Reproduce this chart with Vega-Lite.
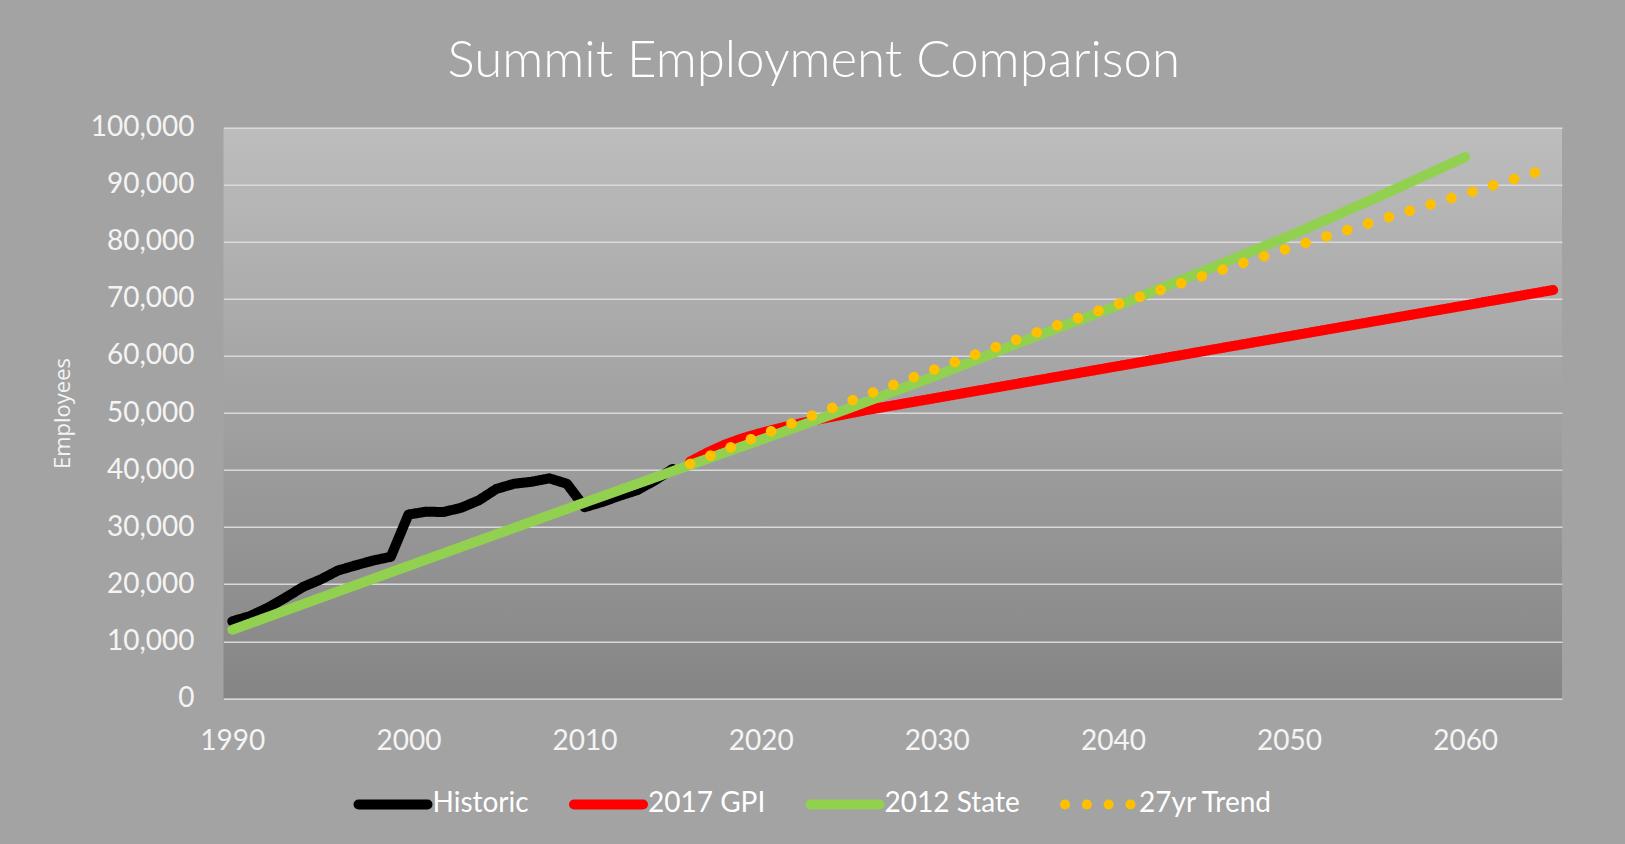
{
  "$schema": "https://vega.github.io/schema/vega-lite/v6.json",
  "width": 1338.5,
  "height": 570.6,
  "autosize": {"type": "none"},
  "padding": {"left": 223.5, "top": 127.7, "right": 63, "bottom": 145.7},
  "background": "#a3a3a3",
  "title": {
    "text": "Summit Employment Comparison",
    "font": "Lato",
    "fontSize": 51,
    "fontWeight": 300,
    "color": "#ffffff",
    "anchor": "middle",
    "frame": "group",
    "dx": -79,
    "dy": 50,
    "baseline": "alphabetic",
    "offset": 36
  },
  "data": {
    "values": [
      {"year": 1990, "series": "Historic", "value": 13500},
      {"year": 1991, "series": "Historic", "value": 14400},
      {"year": 1992, "series": "Historic", "value": 15850},
      {"year": 1993, "series": "Historic", "value": 17600},
      {"year": 1994, "series": "Historic", "value": 19500},
      {"year": 1995, "series": "Historic", "value": 20800},
      {"year": 1996, "series": "Historic", "value": 22400},
      {"year": 1997, "series": "Historic", "value": 23300},
      {"year": 1998, "series": "Historic", "value": 24150},
      {"year": 1999, "series": "Historic", "value": 24800},
      {"year": 2000, "series": "Historic", "value": 32200},
      {"year": 2001, "series": "Historic", "value": 32700},
      {"year": 2002, "series": "Historic", "value": 32650},
      {"year": 2003, "series": "Historic", "value": 33400},
      {"year": 2004, "series": "Historic", "value": 34700},
      {"year": 2005, "series": "Historic", "value": 36700},
      {"year": 2006, "series": "Historic", "value": 37600},
      {"year": 2007, "series": "Historic", "value": 37950},
      {"year": 2008, "series": "Historic", "value": 38550},
      {"year": 2009, "series": "Historic", "value": 37600},
      {"year": 2010, "series": "Historic", "value": 33500},
      {"year": 2011, "series": "Historic", "value": 34400},
      {"year": 2012, "series": "Historic", "value": 35500},
      {"year": 2013, "series": "Historic", "value": 36500},
      {"year": 2014, "series": "Historic", "value": 38200},
      {"year": 2015, "series": "Historic", "value": 40200},
      {"year": 2016, "series": "2017 GPI", "value": 41500},
      {"year": 2017, "series": "2017 GPI", "value": 43100},
      {"year": 2018, "series": "2017 GPI", "value": 44500},
      {"year": 2019, "series": "2017 GPI", "value": 45600},
      {"year": 2020, "series": "2017 GPI", "value": 46500},
      {"year": 2021, "series": "2017 GPI", "value": 47300},
      {"year": 2022, "series": "2017 GPI", "value": 48000},
      {"year": 2023, "series": "2017 GPI", "value": 48700},
      {"year": 2024, "series": "2017 GPI", "value": 49300},
      {"year": 2025, "series": "2017 GPI", "value": 49900},
      {"year": 2026, "series": "2017 GPI", "value": 50500},
      {"year": 2030, "series": "2017 GPI", "value": 52650},
      {"year": 2035, "series": "2017 GPI", "value": 55350},
      {"year": 2040, "series": "2017 GPI", "value": 58050},
      {"year": 2045, "series": "2017 GPI", "value": 60750},
      {"year": 2050, "series": "2017 GPI", "value": 63450},
      {"year": 2055, "series": "2017 GPI", "value": 66150},
      {"year": 2060, "series": "2017 GPI", "value": 68850},
      {"year": 2065, "series": "2017 GPI", "value": 71550},
      {"year": 1990, "series": "2012 State", "value": 12000},
      {"year": 1995, "series": "2012 State", "value": 17600},
      {"year": 2000, "series": "2012 State", "value": 23200},
      {"year": 2005, "series": "2012 State", "value": 28750},
      {"year": 2010, "series": "2012 State", "value": 34300},
      {"year": 2015, "series": "2012 State", "value": 39800},
      {"year": 2020, "series": "2012 State", "value": 45300},
      {"year": 2025, "series": "2012 State", "value": 50800},
      {"year": 2030, "series": "2012 State", "value": 56600},
      {"year": 2035, "series": "2012 State", "value": 62700},
      {"year": 2040, "series": "2012 State", "value": 68500},
      {"year": 2045, "series": "2012 State", "value": 74700},
      {"year": 2050, "series": "2012 State", "value": 81000},
      {"year": 2055, "series": "2012 State", "value": 87800},
      {"year": 2060, "series": "2012 State", "value": 94850},
      {"year": 2016, "series": "27yr Trend", "value": 41100},
      {"year": 2020, "series": "27yr Trend", "value": 46100},
      {"year": 2025, "series": "27yr Trend", "value": 52000},
      {"year": 2030, "series": "27yr Trend", "value": 57800},
      {"year": 2035, "series": "27yr Trend", "value": 63400},
      {"year": 2040, "series": "27yr Trend", "value": 68800},
      {"year": 2045, "series": "27yr Trend", "value": 73900},
      {"year": 2050, "series": "27yr Trend", "value": 78900},
      {"year": 2055, "series": "27yr Trend", "value": 83700},
      {"year": 2060, "series": "27yr Trend", "value": 88400},
      {"year": 2065, "series": "27yr Trend", "value": 93100}
    ]
  },
  "encoding": {
    "x": {
      "field": "year",
      "type": "quantitative",
      "scale": {"domain": [1989.5, 2065.5], "nice": false, "zero": false},
      "axis": {
        "title": null,
        "values": [1990, 2000, 2010, 2020, 2030, 2040, 2050, 2060],
        "format": "d",
        "grid": false,
        "domain": false,
        "ticks": false,
        "tickSize": 0,
        "labelPadding": 29.5,
        "labelFont": "Lato",
        "labelFontSize": 28,
        "labelColor": "#f4f4f4",
        "labelOverlap": false,
        "labelFlush": false
      }
    },
    "y": {
      "field": "value",
      "type": "quantitative",
      "scale": {"domain": [0, 100000], "nice": false},
      "axis": {
        "title": "Employees",
        "values": [0, 10000, 20000, 30000, 40000, 50000, 60000, 70000, 80000, 90000, 100000],
        "format": ",d",
        "grid": true,
        "gridColor": "#d9d9d9",
        "gridWidth": 1.5,
        "domain": false,
        "ticks": false,
        "tickSize": 0,
        "labelPadding": 29.5,
        "labelFont": "Lato",
        "labelFontSize": 28,
        "labelColor": "#f4f4f4",
        "labelOverlap": false,
        "titleFont": "Open Sans",
        "titleFontSize": 22,
        "titleFontWeight": "normal",
        "titleColor": "#f4f4f4",
        "titlePadding": 16
      }
    },
    "color": {
      "field": "series",
      "type": "nominal",
      "scale": {
        "domain": ["Historic", "2017 GPI", "2012 State", "27yr Trend"],
        "range": ["#000000", "#ff0000", "#92d050", "#ffc000"]
      },
      "legend": {
        "title": null,
        "orient": "none",
        "legendX": 130,
        "legendY": 637,
        "direction": "horizontal",
        "symbolType": "stroke",
        "symbolSize": 4761,
        "symbolStrokeWidth": 10,
        "labelFont": "Lato",
        "labelFontSize": 28,
        "labelColor": "#ffffff",
        "labelOffset": 0,
        "columnPadding": 24.5,
        "padding": 0,
        "labelLimit": 400,
        "encode": {"symbols": {"update": {"strokeCap": {"value": "round"}}}}
      }
    },
    "strokeDash": {
      "field": "series",
      "type": "nominal",
      "scale": {
        "domain": ["Historic", "2017 GPI", "2012 State", "27yr Trend"],
        "range": [[1, 0], [1, 0], [1, 0], [0.1, 21.7]]
      },
      "legend": {
        "title": null,
        "orient": "none",
        "legendX": 130,
        "legendY": 637,
        "direction": "horizontal",
        "symbolType": "stroke",
        "symbolSize": 4761,
        "symbolStrokeWidth": 10,
        "labelFont": "Lato",
        "labelFontSize": 28,
        "labelColor": "#ffffff",
        "labelOffset": 0,
        "columnPadding": 24.5,
        "padding": 0,
        "labelLimit": 400,
        "encode": {"symbols": {"update": {"strokeCap": {"value": "round"}}}}
      }
    }
  },
  "layer": [
    {
      "transform": [{"filter": "datum.series === 'Historic'"}],
      "mark": {"type": "line", "strokeWidth": 10, "strokeCap": "round", "strokeJoin": "round"}
    },
    {
      "transform": [{"filter": "datum.series === '2017 GPI'"}],
      "mark": {"type": "line", "strokeWidth": 10, "strokeCap": "round", "strokeJoin": "round"}
    },
    {
      "transform": [{"filter": "datum.series === '2012 State'"}],
      "mark": {"type": "line", "strokeWidth": 10, "strokeCap": "round", "strokeJoin": "round"}
    },
    {
      "transform": [{"filter": "datum.series === '27yr Trend'"}],
      "mark": {"type": "line", "strokeWidth": 10.5, "strokeCap": "round", "strokeJoin": "round"}
    }
  ],
  "config": {
    "view": {
      "stroke": null,
      "fill": {
        "gradient": "linear",
        "x1": 0, "y1": 0, "x2": 0, "y2": 1,
        "stops": [
          {"offset": 0, "color": "#bdbdbd"},
          {"offset": 1, "color": "#858585"}
        ]
      }
    }
  }
}
